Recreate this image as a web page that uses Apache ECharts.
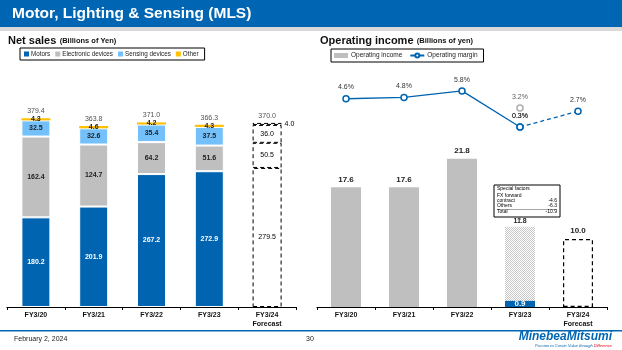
<!DOCTYPE html>
<html>
<head>
<meta charset="utf-8">
<script src="https://cdn.jsdelivr.net/npm/echarts@6/dist/echarts.min.js"></script>
<style>
  html, body { margin: 0; padding: 0; background: #fff; }
  #main { width: 622px; height: 350px; }
</style>
</head>
<body>
<div id="main"></div>
<script>
// data
var years = ['FY3/20', 'FY3/21', 'FY3/22', 'FY3/23', 'FY3/24\nForecast'];
var motors = [180.2, 201.9, 267.2, 272.9, 279.5];
var electronic = [162.4, 124.7, 64.2, 51.6, 50.5];
var sensing = [32.5, 32.6, 35.4, 37.5, 36.0];
var other = [4.3, 4.6, 4.2, 4.3, 4.0];
var salesTotal = [379.4, 363.8, 371.0, 366.3, 370.0];

var opIncome = [17.6, 17.6, 21.8, 0.9, 10.0];
var opIncomeExSpecial = ['-', '-', '-', 11.8, '-'];
var opMargin = [4.6, 4.8, 5.8, 0.3, 2.7];
var opMarginExSpecial = ['-', '-', '-', 3.2, '-'];

var FONT = 'Liberation Sans, Arial, sans-serif';
var BLUE = '#0064b0';

function one(p) { return Number(p.value).toFixed(1); }
function pct(p) { return Number(p.value).toFixed(1) + '%'; }

// checker pattern for the FY3/23 bar before special factors
var pat = document.createElement('canvas');
pat.width = 2; pat.height = 2;
var pc = pat.getContext('2d');
pc.fillStyle = '#ffffff'; pc.fillRect(0, 0, 2, 2);
pc.fillStyle = '#c8c8c8'; pc.fillRect(0, 0, 1, 1); pc.fillRect(1, 1, 1, 1);

var dashed = {color: 'rgba(0,0,0,0)', borderColor: '#000', borderWidth: 1, borderType: [4, 3]};

// last bar = forecast, drawn as a dashed outline
function withForecast(vals) {
    return vals.map(function (v, i) {
        if (i === 4) {
            return {value: v, itemStyle: dashed, label: {color: '#000', fontWeight: 'normal'}};
        }
        return v;
    });
}

function salesSeries(name, vals, color, labelColor) {
    return {
        name: name, type: 'bar', stack: 'sales', xAxisIndex: 0, yAxisIndex: 0,
        barWidth: 29,
        itemStyle: {color: color, borderColor: '#fff', borderWidth: 1},
        label: {show: true, position: 'inside', fontSize: 7, fontFamily: FONT, color: labelColor, fontWeight: 'bold', formatter: one},
        data: withForecast(vals)
    };
}

var otherData = withForecast(other);
otherData[4].label = {position: 'right', distance: 3, color: '#000', fontWeight: 'normal'};

var incomeData = opIncome.map(function (v, i) {
    if (i === 3) return {value: v, itemStyle: {color: BLUE}, label: {position: 'inside', color: '#fff'}};
    if (i === 4) return {value: v, itemStyle: {color: 'rgba(0,0,0,0)', borderColor: '#000', borderWidth: 1.2, borderType: [4, 3]}};
    return v;
});

var chart = echarts.init(document.getElementById('main'));
chart.setOption({
    animation: false,
    textStyle: {fontFamily: FONT},
    grid: [
        {left: 7, width: 289, top: 108, bottom: 43},
        {left: 317, width: 290, top: 103, bottom: 43},
        {left: 317, width: 290, top: 83, bottom: 221}
    ],
    xAxis: [0, 1, 2].map(function (g) {
        return {
            type: 'category', gridIndex: g, data: years,
            show: g !== 2,
            axisLine: {lineStyle: {color: '#000', width: 1.2}},
            axisTick: {show: true, length: 3, lineStyle: {color: '#000'}},
            axisLabel: {fontSize: 7, color: '#111', fontWeight: 'bold', margin: 4, lineHeight: 9, fontFamily: FONT}
        };
    }),
    yAxis: [
        {type: 'value', gridIndex: 0, min: 0, max: 400, show: false},
        {type: 'value', gridIndex: 1, min: 0, max: 30, show: false},
        {type: 'value', gridIndex: 2, min: 0, max: 7, show: false}
    ],
    legend: [
        {
            data: ['Motors', 'Electronic devices', 'Sensing devices', 'Other'],
            left: 20, top: 48, width: 400,
            itemWidth: 5, itemHeight: 5, itemGap: 5, icon: 'rect',
            itemStyle: {borderWidth: 0},
            padding: [3, 6, 3, 4],
            borderColor: '#000', borderWidth: 1, borderRadius: 0,
            textStyle: {fontSize: 6.3, color: '#222', padding: [0, 0, 0, -3]}
        },
        {
            data: [{name: 'Operating income', icon: 'rect'}, 'Operating margin'],
            left: 331, top: 49,
            itemWidth: 14, itemHeight: 5, itemGap: 7,
            padding: [3, 6, 3, 3],
            borderColor: '#000', borderWidth: 1, borderRadius: 0,
            textStyle: {fontSize: 6.5, color: '#222', padding: [0, 0, 0, -2]}
        }
    ],
    series: [
        salesSeries('Motors', motors, BLUE, '#fff'),
        salesSeries('Electronic devices', electronic, '#bfbfbf', '#222'),
        salesSeries('Sensing devices', sensing, '#73c0fb', '#222'),
        {
            name: 'Other', type: 'bar', stack: 'sales', xAxisIndex: 0, yAxisIndex: 0,
            barWidth: 29,
            itemStyle: {color: '#ffc000'},
            label: {show: true, position: 'inside', fontSize: 7, fontFamily: FONT, color: '#222', fontWeight: 'bold', formatter: one},
            data: otherData
        },
        {
            name: 'total', type: 'scatter', xAxisIndex: 0, yAxisIndex: 0,
            symbolSize: 1, itemStyle: {color: 'rgba(0,0,0,0)'},
            label: {show: true, position: 'top', distance: 3, fontSize: 7, color: '#222', fontFamily: FONT, formatter: one},
            data: salesTotal
        },
        {
            name: 'before special', type: 'bar', xAxisIndex: 1, yAxisIndex: 1,
            barWidth: 30, barGap: '-100%', z: 1,
            itemStyle: {color: {image: pat, repeat: 'repeat'}},
            label: {show: true, position: 'top', distance: 2, fontSize: 7, fontWeight: 'bold', color: '#222', fontFamily: FONT, formatter: one},
            data: opIncomeExSpecial
        },
        {
            name: 'Operating income', type: 'bar', xAxisIndex: 1, yAxisIndex: 1,
            barWidth: 30, barGap: '-100%', z: 3,
            itemStyle: {color: '#bfbfbf'},
            label: {show: true, position: 'top', distance: 4, fontSize: 8, fontWeight: 'bold', color: '#222', fontFamily: FONT, formatter: one},
            data: incomeData
        },
        {
            name: 'Operating margin', type: 'line', xAxisIndex: 2, yAxisIndex: 2,
            symbol: 'circle', symbolSize: 6,
            itemStyle: {color: '#fff', borderColor: BLUE, borderWidth: 1.5},
            lineStyle: {color: BLUE, width: 1.3},
            label: {show: true, position: 'top', distance: 4, fontSize: 7, color: '#333', formatter: pct},
            data: opMargin.slice(0, 4).concat(['-'])
        },
        {
            name: 'margin forecast', type: 'line', xAxisIndex: 2, yAxisIndex: 2,
            symbol: 'circle', symbolSize: 6, z: 1,
            itemStyle: {color: '#fff', borderColor: BLUE, borderWidth: 1.5},
            lineStyle: {color: BLUE, width: 1.3, type: [4, 3]},
            label: {show: true, position: 'top', distance: 4, fontSize: 7, color: '#333', formatter: pct},
            data: ['-', '-', '-', opMargin[3], opMargin[4]]
        },
        {
            name: 'margin before special', type: 'scatter', xAxisIndex: 2, yAxisIndex: 2,
            symbol: 'circle', symbolSize: 6,
            itemStyle: {color: '#fff', borderColor: '#999', borderWidth: 1.5},
            label: {show: true, position: 'top', distance: 4, fontSize: 7, color: '#333', formatter: pct},
            data: opMarginExSpecial
        }
    ],
    graphic: [
        {type: 'rect', shape: {x: 0, y: 0, width: 622, height: 27}, style: {fill: '#0066b3'}},
        {type: 'rect', shape: {x: 0, y: 27, width: 622, height: 4}, style: {fill: '#d9d9d9'}},
        {type: 'text', left: 12, top: 6, style: {text: 'Motor, Lighting & Sensing (MLS)', fill: '#fff', font: 'bold 15.5px ' + FONT}},
        {type: 'text', left: 8, top: 35, style: {
            text: '{a|Net sales} {b|(Billions of Yen)}',
            rich: {a: {font: 'bold 11px ' + FONT, fill: '#111'}, b: {font: 'bold 7.5px ' + FONT, fill: '#111'}}
        }},
        {type: 'text', left: 320, top: 35, style: {
            text: '{a|Operating income} {b|(Billions of yen)}',
            rich: {a: {font: 'bold 11px ' + FONT, fill: '#111'}, b: {font: 'bold 7.5px ' + FONT, fill: '#111'}}
        }},
        // special factors note
        {type: 'rect', shape: {x: 494, y: 185, width: 66, height: 32}, style: {fill: '#fff', stroke: '#000', lineWidth: 1}},
        {type: 'line', shape: {x1: 520, y1: 217, x2: 520, y2: 220}, style: {stroke: '#666', lineWidth: 1}},
        {type: 'line', shape: {x1: 497, y1: 209.5, x2: 557, y2: 209.5}, style: {stroke: '#666', lineWidth: 0.6}},
        {type: 'text', left: 497, top: 186, style: {text: 'Special factors', font: '5px ' + FONT, fill: '#000'}},
        {type: 'text', left: 497, top: 193, style: {text: 'FX forward', font: '5px ' + FONT, fill: '#000'}},
        {type: 'text', left: 497, top: 198, style: {text: 'contract', font: '5px ' + FONT, fill: '#000'}},
        {type: 'text', left: 497, top: 203.5, style: {text: 'Others', font: '5px ' + FONT, fill: '#000'}},
        {type: 'text', left: 497, top: 209, style: {text: 'Total', font: '5px ' + FONT, fill: '#000'}},
        {type: 'text', right: 65, top: 198, style: {text: '-4.6', font: '5px ' + FONT, fill: '#000'}},
        {type: 'text', right: 65, top: 203.5, style: {text: '-6.3', font: '5px ' + FONT, fill: '#000'}},
        {type: 'text', right: 65, top: 209, style: {text: '-10.9', font: '5px ' + FONT, fill: '#000'}},
        // footer
        {type: 'rect', shape: {x: 0, y: 330, width: 622, height: 1.5}, style: {fill: '#0066b3'}},
        {type: 'text', left: 14, top: 336, style: {text: 'February 2, 2024', font: '7px ' + FONT, fill: '#222'}},
        {type: 'text', left: 306, top: 336, style: {text: '30', font: '7px ' + FONT, fill: '#222'}},
        {type: 'text', right: 10, top: 331, style: {text: 'MinebeaMitsumi', font: 'italic bold 12px ' + FONT, fill: '#0066b3'}},
        {type: 'text', right: 10, top: 344, style: {
            text: '{a|Passion to Create Value through }{b|Difference}',
            rich: {a: {font: 'italic 4px ' + FONT, fill: '#0066b3'}, b: {font: 'italic 4px ' + FONT, fill: '#e60012'}}
        }}
    ]
});
</script>
</body>
</html>
